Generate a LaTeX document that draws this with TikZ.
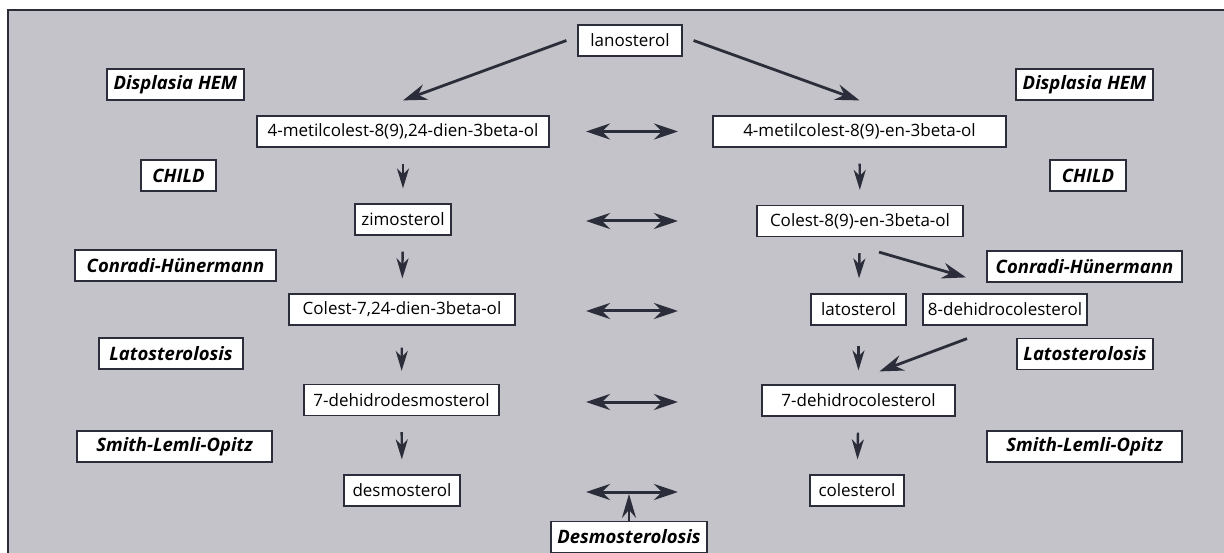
\documentclass[tikz,border=0pt]{standalone}
\usepackage{fontspec}
\setmainfont{Open Sans}
\usepackage{tikz}
\usetikzlibrary{arrows.meta}
\definecolor{panelgray}{RGB}{196,195,201}
\definecolor{inkdark}{RGB}{43,45,58}

\begin{document}
\begin{tikzpicture}[x=1pt,y=-1pt,every node/.style={rectangle,draw=inkdark,fill=white,line width=1.2pt,minimum height=31pt,inner sep=0pt,font=\fontsize{17}{20}\selectfont},disease/.style={font=\fontsize{18.5}{20}\selectfont\bfseries\itshape},downarr/.style={draw=inkdark,line width=2.4pt,-{Stealth[length=20pt,width=12pt,inset=6pt]},shorten <=16pt,shorten >=15pt},diagarr/.style={draw=inkdark,line width=2.8pt,-{Stealth[length=24pt,width=16pt,inset=8pt]}},bothway/.style={draw=inkdark,line width=3pt,{Stealth[length=24pt,width=16pt,inset=8pt]}-{Stealth[length=24pt,width=16pt,inset=8pt]}}]
	
	\useasboundingbox (0,0) rectangle (1224,553);
	\draw[draw=inkdark,line width=1.5pt,fill=panelgray] (8,10) rectangle (1240,570);
	
	\node[minimum width=104pt] (lano) at (630,40.5) {lanosterol};
	
	\node[minimum width=292pt] (metA) at (403,131.5) {4-metilcolest-8(9),24-dien-3beta-ol};
	\node[minimum width=96pt] (zimo) at (403,219.5) {zimosterol};
	\node[minimum width=226pt] (colC) at (402,309.5) {Colest-7,24-dien-3beta-ol};
	\node[minimum width=195pt] (dhd7) at (401.5,400) {7-dehidrodesmosterol};
	\node[minimum width=116pt] (desmo) at (402,490.5) {desmosterol};
	
	\node[minimum width=293pt] (metB) at (859.5,131.5) {4-metilcolest-8(9)-en-3beta-ol};
	\node[minimum width=206pt] (colB) at (860,221) {Colest-8(9)-en-3beta-ol};
	\node[minimum width=95pt] (lato) at (858.5,309.5) {latosterol};
	\node[minimum width=164pt] (dhc8) at (1005,309.5) {8-dehidrocolesterol};
	\node[minimum width=193pt] (dhc7) at (858.5,400.5) {7-dehidrocolesterol};
	\node[minimum width=94pt] (coles) at (857,490.5) {colesterol};
	
	\node[disease,minimum width=137pt] (hemL) at (175.5,84.5) {Displasia HEM};
	\node[disease,minimum width=75pt] (childL) at (178.5,175.5) {CHILD};
	\node[disease,minimum width=201pt] (conL) at (175.5,265.5) {Conradi-Hünermann};
	\node[disease,minimum width=144pt] (latL) at (171,353.5) {Latosterolosis};
	\node[disease,minimum width=195pt] (sloL) at (174.5,446.5) {Smith-Lemli-Opitz};
	
	\node[disease,minimum width=137pt] (hemR) at (1084.5,84.5) {Displasia HEM};
	\node[disease,minimum width=76pt] (childR) at (1088,175.5) {CHILD};
	\node[disease,minimum width=195pt] (conR) at (1084.5,266.5) {Conradi-Hünermann};
	\node[disease,minimum width=136pt] (latR) at (1085,354) {Latosterolosis};
	\node[disease,minimum width=195pt] (sloR) at (1084.5,446.5) {Smith-Lemli-Opitz};
	
	\node[disease,minimum width=156pt] (desmosis) at (629,537) {Desmosterolosis};
	
	\draw[diagarr] ([xshift=-11pt]lano.west) -- ([yshift=15pt]metA.north);
	\draw[diagarr] ([xshift=11pt]lano.east) -- ([yshift=15pt]metB.north);
	
	\draw[downarr] (metA) -- (zimo);
	\draw[downarr] (zimo) -- (colC);
	\draw[downarr,shorten <=22pt,shorten >=13pt] (colC) -- (dhd7);
	\draw[downarr] (dhd7) -- (desmo);
	
	\draw[downarr] (metB) -- (colB);
	\draw[downarr] (colB) -- (lato);
	\draw[downarr,shorten <=20pt,shorten >=14pt] (lato) -- (dhc7);
	\draw[downarr] (dhc7) -- (coles);
	
	\draw[diagarr] ([shift={(19pt,-15pt)}]colB.south) -- ([shift={(-39pt,16pt)}]dhc8.north);
	\draw[diagarr] ([shift={(-38pt,-13pt)}]dhc8.south) -- ([shift={(21pt,13pt)}]dhc7.north);
	
	\draw[bothway] (586,0 |- metB) -- (678,0 |- metB);
	\draw[bothway] (586,0 |- colB) -- (678,0 |- colB);
	\draw[bothway] ([yshift=-1.5pt]586,0 |- lato) -- ([yshift=-1.5pt]678,0 |- lato);
	\draw[bothway] ([yshift=-1.5pt]586,0 |- dhc7) -- ([yshift=-1.5pt]678,0 |- dhc7);
	\draw[bothway] ([yshift=-1.5pt]586,0 |- coles) -- ([yshift=-1.5pt]678,0 |- coles);
	
	\draw[diagarr,-{Stealth[length=24pt,width=14pt,inset=8pt]}] (desmosis.north) -- ([yshift=27pt]desmosis.north);
	
\end{tikzpicture}
\end{document}
